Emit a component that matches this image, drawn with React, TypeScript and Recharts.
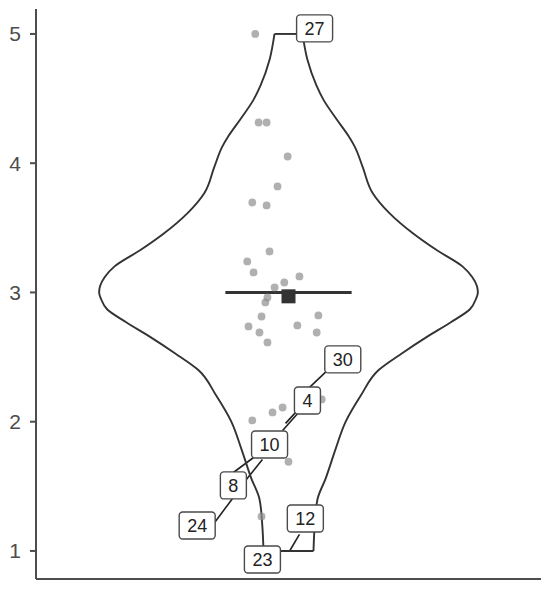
import { ScatterChart, Scatter, XAxis, YAxis, ReferenceLine } from 'recharts';

// violin outline: response value and relative density (1 = widest)
const violinY = [1.0, 1.19, 1.4, 1.56, 1.79, 2.0, 2.2, 2.4, 2.53, 2.66, 2.77, 2.87, 2.95, 3.0, 3.05, 3.12, 3.2, 3.33, 3.46, 3.62, 3.77, 3.97, 4.13, 4.21, 4.34, 4.49, 4.6, 4.8, 5.0];
const violinDensity = [0.132, 0.138, 0.153, 0.196, 0.249, 0.302, 0.381, 0.476, 0.6, 0.735, 0.857, 0.958, 0.99, 1.0, 0.995, 0.97, 0.92, 0.78, 0.655, 0.529, 0.444, 0.392, 0.349, 0.317, 0.254, 0.185, 0.148, 0.1, 0.074];

// jittered raw observations
const pointX = [0.921, 0.929, 0.948, 0.998, 0.974, 0.914, 0.948, 0.955, 0.902, 0.917, 1.026, 0.99, 0.967, 0.95, 0.945, 0.936, 0.905, 0.931, 0.95, 1.021, 1.071, 1.067, 0.914, 0.962, 0.986, 1.079, 1.0, 0.936, 0.905];
const pointY = [5.0, 4.315, 4.315, 4.052, 3.82, 3.696, 3.673, 3.317, 3.24, 3.155, 3.124, 3.077, 3.039, 2.961, 2.923, 2.814, 2.737, 2.69, 2.613, 2.745, 2.822, 2.69, 2.01, 2.072, 2.11, 2.172, 1.69, 1.267, 0.99];

const meanValue = 2.97;
const medianValue = 3.0;

// outlier labels (row ids) and where the repelled boxes sit
const labelIds = ['27', '30', '4', '10', '8', '24', '23', '12'];
const labelX = [1.062, 1.129, 1.045, 0.955, 0.869, 0.783, 0.938, 1.04];
const labelY = [5.043, 2.482, 2.164, 1.824, 1.507, 1.197, 0.934, 1.251];

// connector segments from labels toward their points
const segFrom = [
  [1.09, 2.389], [1.026, 2.079], [1.017, 2.072], [0.917, 1.723], [0.938, 1.708], [0.867, 1.406], [1.026, 1.128],
];
const segTo = [
  [1.05, 2.265], [0.986, 1.932], [0.993, 1.987], [0.869, 1.607], [0.898, 1.545], [0.821, 1.205], [1.002, 0.996],
];

const HALF = 0.45;
const INK = '#333333';
const AXIS = '#4d4d4d';

const leftSide = violinY.map((y, i) => ({ x: 1 - violinDensity[i] * HALF, y }));
const rightSide = violinY.map((y, i) => ({ x: 1 + violinDensity[i] * HALF, y }));
const last = violinY.length - 1;
const topEdge = [leftSide[last], rightSide[last]];
const bottomEdge = [leftSide[0], rightSide[0]];

const points = pointX.map((x, i) => ({ x, y: pointY[i] }));
const labels = labelIds.map((id, i) => ({ x: labelX[i], y: labelY[i], id }));

const Nothing = () => <g />;

const LabelBox = (props: any) => {
  const { cx, cy, payload } = props;
  const w = payload.id.length * 10 + 16;
  const h = 27;
  return (
    <g>
      <rect x={cx - w / 2} y={cy - h / 2} width={w} height={h} rx={3.5} fill="#fff" stroke="#4a4a4a" strokeWidth={1.4} />
      <text x={cx} y={cy} dy="0.36em" textAnchor="middle" fontSize={18} fontFamily="Liberation Sans, Arial, sans-serif" fill="#222">
        {payload.id}
      </text>
    </g>
  );
};

const MeanSquare = (props: any) => {
  const { cx, cy } = props;
  return <rect x={cx - 7} y={cy - 7} width={14} height={14} fill={INK} />;
};

const Dot = (props: any) => {
  const { cx, cy } = props;
  return <circle cx={cx} cy={cy} r={3.9} fill="#8f8f8f" fillOpacity={0.7} />;
};

const lineStyle = { stroke: INK, strokeWidth: 1.9 };

export default function App() {
  return (
    <div style={{ position: 'absolute', left: 0, top: 0, background: '#fff' }}>
      <ScatterChart width={550} height={591} margin={{ top: 9, right: 9, bottom: 10, left: 0 }}>
        <XAxis
          type="number"
          dataKey="x"
          domain={[0.4, 1.6]}
          allowDataOverflow
          tick={false}
          tickLine={false}
          height={2}
          axisLine={{ stroke: AXIS, strokeWidth: 2 }}
        />
        <YAxis
          type="number"
          dataKey="y"
          domain={[0.783, 5.193]}
          allowDataOverflow
          ticks={[1, 2, 3, 4, 5]}
          width={36}
          tickSize={6}
          tickMargin={9}
          axisLine={{ stroke: AXIS, strokeWidth: 2 }}
          tickLine={{ stroke: AXIS, strokeWidth: 2 }}
          tick={{ fontSize: 21, fill: AXIS, fontFamily: 'Liberation Sans, Arial, sans-serif' }}
        />
        <Scatter data={leftSide} line={lineStyle} lineJointType="monotoneY" shape={Nothing} isAnimationActive={false} />
        <Scatter data={rightSide} line={lineStyle} lineJointType="monotoneY" shape={Nothing} isAnimationActive={false} />
        <Scatter data={topEdge} line={lineStyle} shape={Nothing} isAnimationActive={false} />
        <Scatter data={bottomEdge} line={lineStyle} shape={Nothing} isAnimationActive={false} />
        <Scatter data={points} shape={Dot} isAnimationActive={false} />
        <ReferenceLine
          segment={[{ x: 0.85, y: medianValue }, { x: 1.15, y: medianValue }]}
          stroke={INK}
          strokeWidth={3}
        />
        <Scatter data={[{ x: 1, y: meanValue }]} shape={MeanSquare} isAnimationActive={false} />
        {segFrom.map((a, i) => (
          <ReferenceLine
            key={i}
            segment={[{ x: a[0], y: a[1] }, { x: segTo[i][0], y: segTo[i][1] }]}
            stroke="#222"
            strokeWidth={1.6}
          />
        ))}
        <Scatter data={labels} shape={LabelBox} isAnimationActive={false} />
      </ScatterChart>
    </div>
  );
}
